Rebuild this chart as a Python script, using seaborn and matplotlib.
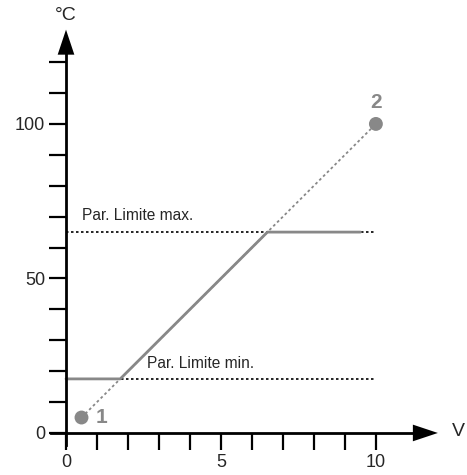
import matplotlib.pyplot as plt
import pandas as pd
import seaborn as sns

# calibration points and resulting characteristic
point_x = [0.5, 10]
point_y = [5, 100]
point_labels = ['1', '2']

limit_min = 17.5
limit_max = 65
limit_x = [0, 10]

resp_x = [0, 1.75, 6.5, 9.5]
resp_y = [17.5, 17.5, 65, 65]

x_major = [0, 5, 10]
x_minor = [1, 2, 3, 4, 6, 7, 8, 9]
y_major = [0, 50, 100]
y_minor = [10, 20, 30, 40, 60, 70, 80, 90, 110, 120]

sns.set_style('white')
plt.rcParams['font.family'] = ['Liberation Sans', 'DejaVu Sans']

grey = '#888888'

fig = plt.figure(figsize=(4.67, 4.75), dpi=100)
ax = fig.add_axes([0, 0, 1, 1])
ax.set_xlim(-2.13, 12.94)
ax.set_ylim(-13.6, 140.1)

df_pts = pd.DataFrame({'x': point_x, 'y': point_y})
df_resp = pd.DataFrame({'x': resp_x, 'y': resp_y})

# limit lines
sns.lineplot(x=limit_x, y=[limit_max] * 2, ax=ax, color='black', lw=1.2, ls=(0, (1.5, 1.5)))
sns.lineplot(x=limit_x, y=[limit_min] * 2, ax=ax, color='black', lw=1.2, ls=(0, (1.5, 1.5)))
ax.text(0.5, 70.5, 'Par. Limite max.', fontsize=11.2, va='center', ha='left')
ax.text(2.6, 22.5, 'Par. Limite min.', fontsize=11.2, va='center', ha='left')

# line through both points
sns.lineplot(data=df_pts, x='x', y='y', ax=ax, color=grey, lw=1.3, ls=(0, (1.5, 1.5)))
sns.lineplot(data=df_resp, x='x', y='y', ax=ax, color=grey, lw=2, sort=False)
sns.scatterplot(data=df_pts, x='x', y='y', ax=ax, color=grey, s=100, edgecolor='none', zorder=5)
ax.text(point_x[0] + 0.66, point_y[0], point_labels[0], color=grey, fontsize=15,
        fontweight='bold', va='center', ha='center')
ax.text(point_x[1], point_y[1] + 6.8, point_labels[1], color=grey, fontsize=15,
        fontweight='bold', va='center', ha='center')

# axes through the origin
for side in ['top', 'right']:
    ax.spines[side].set_visible(False)
ax.spines['left'].set_position(('data', 0))
ax.spines['bottom'].set_position(('data', 0))
ax.spines['left'].set_bounds(-3.9, 125)
ax.spines['bottom'].set_bounds(-0.5, 11.3)
ax.spines['left'].set_linewidth(2)
ax.spines['bottom'].set_linewidth(2)
ax.spines['left'].set_color('black')
ax.spines['bottom'].set_color('black')

ax.set_xticks(x_major)
ax.set_xticks(x_minor, minor=True)
ax.set_yticks(y_major)
ax.set_yticks(y_minor, minor=True)
ax.tick_params(which='both', direction='out', length=12, width=1.6, color='black',
               labelsize=13, pad=3)
ax.tick_params(axis='both', which='both', bottom=True, left=True)
ax.set_xlabel('')
ax.set_ylabel('')

arrow = dict(arrowstyle='-|>,head_length=1.8,head_width=0.6', mutation_scale=10,
             color='black', lw=0, shrinkA=0, shrinkB=0)
ax.annotate('', xy=(12.0, 0), xytext=(11.2, 0), arrowprops=arrow)
ax.annotate('', xy=(0, 130.5), xytext=(0, 122), arrowprops=arrow)

ax.text(12.45, 0.5, 'V', fontsize=14, va='center', ha='left')
ax.text(0, 135.2, '°C', fontsize=14, va='center', ha='center')

fig.savefig('out.png', dpi=100)
